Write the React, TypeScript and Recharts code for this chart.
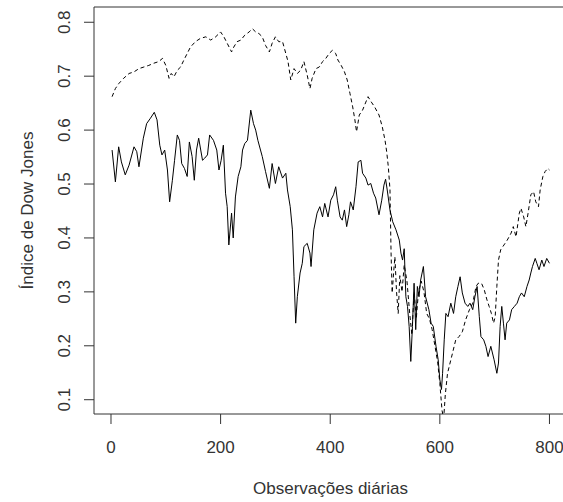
import React from 'react';
import { LineChart, Line, XAxis, YAxis, ReferenceArea } from 'recharts';

// Daily index, solid series: observation number and value
const solidDays = [
  2, 8, 14, 19, 26, 33, 42, 47, 51, 59, 65, 72, 79, 84, 89, 93, 98, 103, 107, 112,
  116, 121, 125, 129, 134, 139, 143, 148, 152, 156, 160, 167, 171, 176, 180, 187, 193, 197, 201, 205,
  209, 212, 215, 220, 223, 227, 232, 237, 240, 244, 249, 255, 260, 264, 268, 276, 282, 289, 294, 300,
  306, 313, 319, 322, 327, 331, 334, 337, 340, 345, 349, 352, 358, 363, 365, 370, 376, 381, 386, 390,
  396, 401, 406, 410, 413, 418, 422, 426, 430, 434, 437, 442, 447, 451, 456, 459, 465, 469, 474, 479,
  483, 489, 494, 498, 501, 504, 509, 514, 520, 526, 529, 532, 535, 538, 541, 544, 547, 550, 553, 556,
  559, 562, 565, 570, 574, 580, 584, 588, 593, 597, 600, 603, 605, 608, 611, 615, 620, 625, 629, 633,
  637, 641, 646, 651, 655, 660, 664, 668, 672, 675, 680, 684, 688, 693, 699, 704, 707, 710, 713, 716,
  719, 722, 727, 731, 736, 741, 745, 749, 754, 759, 763, 766, 769, 774, 777, 781, 786, 790, 795, 800,
];
const solidValues = [
  0.563, 0.504, 0.569, 0.541, 0.517, 0.535, 0.569, 0.56, 0.532, 0.585, 0.612, 0.622, 0.633, 0.619, 0.572, 0.554, 0.563, 0.526, 0.467, 0.507,
  0.544, 0.591, 0.581, 0.538, 0.529, 0.514, 0.578, 0.551, 0.507, 0.563, 0.585, 0.544, 0.548, 0.554, 0.591, 0.581, 0.563, 0.526, 0.544, 0.572,
  0.483, 0.458, 0.387, 0.446, 0.4, 0.476, 0.514, 0.532, 0.563, 0.575, 0.581, 0.637, 0.612, 0.6, 0.581, 0.551, 0.523, 0.492, 0.538, 0.501,
  0.532, 0.511, 0.52, 0.489, 0.458, 0.415, 0.328, 0.242, 0.291, 0.335, 0.353, 0.384, 0.39, 0.372, 0.347, 0.415, 0.446, 0.458, 0.439, 0.464,
  0.439, 0.47, 0.48, 0.495, 0.47, 0.439, 0.433, 0.452, 0.421, 0.443, 0.467, 0.452, 0.495, 0.541, 0.544, 0.52, 0.511, 0.498, 0.501, 0.483,
  0.474, 0.443, 0.47, 0.498, 0.509, 0.489, 0.452, 0.43, 0.415, 0.396, 0.372, 0.359, 0.38, 0.291, 0.273, 0.236, 0.171, 0.236, 0.316, 0.23,
  0.31, 0.291, 0.322, 0.347, 0.291, 0.267, 0.242, 0.236, 0.199, 0.174, 0.137, 0.119, 0.149, 0.211, 0.26, 0.254, 0.279, 0.26, 0.291, 0.31,
  0.328, 0.298, 0.279, 0.273, 0.279, 0.267, 0.291, 0.31, 0.254, 0.217, 0.211, 0.199, 0.18, 0.199, 0.174, 0.149, 0.168, 0.236, 0.273, 0.242,
  0.211, 0.242, 0.248, 0.267, 0.273, 0.279, 0.291, 0.298, 0.291, 0.31, 0.322, 0.335, 0.347, 0.362, 0.353, 0.341, 0.359, 0.347, 0.362, 0.353,
];

// Daily index, dashed series: observation number and value
const dashedDays = [
  2, 8, 14, 23, 33, 42, 51, 60, 69, 78, 87, 94, 100, 106, 110, 115, 121, 127, 133, 139,
  145, 154, 163, 173, 182, 191, 200, 206, 212, 220, 224, 230, 237, 244, 252, 258, 264, 270, 276, 282,
  289, 294, 300, 306, 313, 319, 323, 328, 334, 340, 346, 352, 358, 363, 367, 374, 380, 386, 392, 398,
  404, 410, 414, 420, 426, 431, 436, 441, 445, 448, 453, 459, 465, 469, 475, 481, 489, 495, 500, 503,
  506, 509, 511, 513, 516, 518, 521, 524, 527, 531, 535, 540, 545, 549, 553, 557, 561, 566, 571, 576,
  581, 586, 591, 596, 600, 604, 607, 610, 614, 623, 629, 635, 641, 647, 654, 660, 666, 670, 676, 681,
  686, 690, 694, 698, 701, 704, 707, 711, 717, 723, 730, 734, 739, 745, 748, 753, 757, 761, 766, 771,
  775, 780, 783, 788, 792, 797, 800,
];
const dashedValues = [
  0.662, 0.677, 0.686, 0.696, 0.705, 0.708, 0.714, 0.717, 0.72, 0.724, 0.727, 0.733, 0.72, 0.696, 0.705, 0.699, 0.711, 0.717, 0.73, 0.742,
  0.754, 0.764, 0.77, 0.773, 0.767, 0.773, 0.782, 0.773, 0.761, 0.745, 0.754, 0.764, 0.767, 0.776, 0.782, 0.788, 0.782, 0.779, 0.773, 0.757,
  0.745, 0.761, 0.773, 0.764, 0.764, 0.742, 0.727, 0.693, 0.714, 0.705, 0.711, 0.727, 0.702, 0.677, 0.696, 0.714, 0.717, 0.727, 0.733, 0.742,
  0.748, 0.742, 0.73, 0.72, 0.708, 0.693, 0.668, 0.643, 0.619, 0.597, 0.628, 0.637, 0.652, 0.662, 0.652, 0.643, 0.628, 0.606, 0.581, 0.56,
  0.532, 0.49, 0.372, 0.298, 0.34, 0.365, 0.3, 0.26, 0.33, 0.3, 0.35, 0.32, 0.26, 0.22, 0.3, 0.25, 0.3, 0.32, 0.3, 0.26,
  0.25, 0.23, 0.2, 0.17, 0.13, 0.08, 0.065, 0.11, 0.149, 0.186, 0.211, 0.217, 0.226, 0.248, 0.267, 0.279, 0.31, 0.316, 0.316, 0.304,
  0.285, 0.273, 0.26, 0.242, 0.254, 0.31, 0.359, 0.378, 0.387, 0.396, 0.409, 0.421, 0.402, 0.446, 0.455, 0.439, 0.421, 0.446, 0.48, 0.486,
  0.467, 0.458, 0.489, 0.514, 0.523, 0.529, 0.526,
];

const xTicks = [0, 200, 400, 600, 800];
const yTicks = [0.1, 0.2, 0.3, 0.4, 0.5, 0.6, 0.7, 0.8];

const xTitle = 'Observações diárias';
const yTitle = 'Índice de Dow Jones';

const solidData = solidDays.map((d, i) => ({ day: d, value: solidValues[i] }));
const dashedData = dashedDays.map((d, i) => ({ day: d, value: dashedValues[i] }));

const X_DOMAIN: [number, number] = [-31, 832];
const Y_DOMAIN: [number, number] = [0.0735, 0.8283];

const FONT = '"Liberation Sans", Arial, sans-serif';
const TEXT_COLOR = '#333';

const XTick = (props: any) => {
  const { x, payload } = props;
  return (
    <text x={x} y={453} textAnchor="middle" fontFamily={FONT} fontSize={17} fill={TEXT_COLOR}>
      {String(payload.value)}
    </text>
  );
};

const YTick = (props: any) => {
  const { y, payload } = props;
  const bx = 70;
  return (
    <text
      x={bx}
      y={y}
      transform={`rotate(-90, ${bx}, ${y})`}
      textAnchor="middle"
      fontFamily={FONT}
      fontSize={17}
      fill={TEXT_COLOR}
    >
      {Number(payload.value).toFixed(1)}
    </text>
  );
};

const XTitle = (props: any) => {
  const vb = props.viewBox || {};
  const cx = (vb.x ?? 94) + (vb.width ?? 473) / 2;
  return (
    <text x={cx} y={494} textAnchor="middle" fontFamily={FONT} fontSize={17} fill={TEXT_COLOR}>
      {xTitle}
    </text>
  );
};

const YTitle = (props: any) => {
  const vb = props.viewBox || {};
  const cy = (vb.y ?? 7) + (vb.height ?? 407) / 2;
  const bx = 33;
  return (
    <text
      x={bx}
      y={cy}
      transform={`rotate(-90, ${bx}, ${cy})`}
      textAnchor="middle"
      fontFamily={FONT}
      fontSize={17}
      fill={TEXT_COLOR}
    >
      {yTitle}
    </text>
  );
};

export default function App() {
  return (
    <div
      style={{
        position: 'fixed',
        left: 0,
        top: 0,
        width: 563,
        height: 502,
        overflow: 'hidden',
        background: '#fff',
      }}
    >
      <LineChart width={567} height={502} margin={{ top: 7, right: 0, bottom: 0, left: 0 }}>
        <XAxis
          type="number"
          dataKey="day"
          domain={X_DOMAIN}
          allowDataOverflow
          ticks={xTicks}
          interval={0}
          height={88}
          tickSize={10}
          axisLine={false}
          tickLine={{ stroke: '#333', strokeWidth: 1 }}
          tick={<XTick />}
          label={{ content: (p: any) => <XTitle {...p} /> }}
        />
        <YAxis
          type="number"
          dataKey="value"
          domain={Y_DOMAIN}
          allowDataOverflow
          ticks={yTicks}
          interval={0}
          width={94}
          tickSize={10}
          axisLine={false}
          tickLine={{ stroke: '#333', strokeWidth: 1 }}
          tick={<YTick />}
          label={{ content: (p: any) => <YTitle {...p} /> }}
        />
        <ReferenceArea
          x1={X_DOMAIN[0]}
          x2={X_DOMAIN[1]}
          y1={Y_DOMAIN[0]}
          y2={Y_DOMAIN[1]}
          fill="none"
          fillOpacity={0}
          stroke="#333"
          strokeWidth={1}
          ifOverflow="visible"
        />
        <Line
          data={solidData}
          dataKey="value"
          type="linear"
          stroke="#000"
          strokeWidth={1}
          dot={false}
          activeDot={false}
          isAnimationActive={false}
        />
        <Line
          data={dashedData}
          dataKey="value"
          type="linear"
          stroke="#000"
          strokeWidth={1}
          strokeDasharray="4 3"
          dot={false}
          activeDot={false}
          isAnimationActive={false}
        />
      </LineChart>
    </div>
  );
}
